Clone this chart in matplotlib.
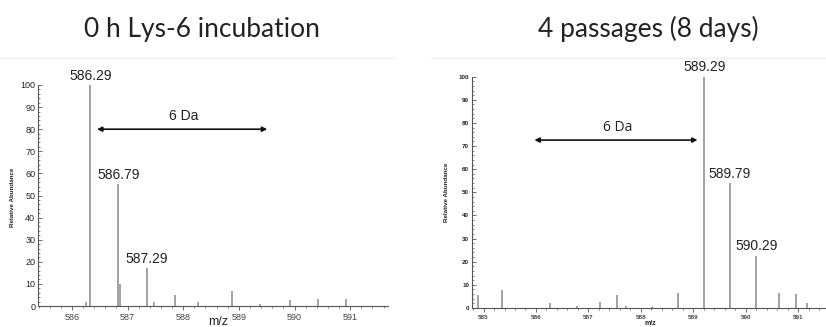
import matplotlib
matplotlib.use("Agg")
import matplotlib.pyplot as plt
from matplotlib.lines import Line2D
from matplotlib.ticker import MultipleLocator

# Left spectrum: 0 h Lys-6 incubation (centroid m/z, relative abundance)
left_mz = [586.26, 586.33, 586.83, 586.86, 587.35, 587.47, 587.86, 588.27, 588.88, 589.38, 589.92, 590.42, 590.93]
left_int = [2, 100, 55, 10, 17, 2, 5, 2, 7, 1, 2.5, 3, 3]
left_labels = ["586.29", "586.79", "587.29"]
left_label_mz = [586.33, 586.83, 587.35]
left_label_int = [100, 55, 17]

# Right spectrum: 4 passages (8 days)
right_mz = [584.89, 585.36, 586.27, 586.78, 587.23, 587.54, 587.72, 588.21, 588.70,
            589.21, 589.70, 590.20, 590.64, 590.96, 591.17]
right_int = [5.8, 7.6, 2, 1, 2.5, 5.8, 1, 0.5, 6.5, 100, 54, 22.6, 6.5, 6, 2]
right_labels = ["589.29", "589.79", "590.29"]
right_label_mz = [589.21, 589.70, 590.20]
right_label_int = [100, 54, 22.6]

titles = ["0 h Lys-6 incubation", "4 passages (8 days)"]
yticks = list(range(0, 101, 10))

fig = plt.figure(figsize=(8.26, 3.27), dpi=100)
ax1 = fig.add_axes([38 / 826, 1 - 306 / 327, 350 / 826, 221 / 327])
ax2 = fig.add_axes([472 / 826, 1 - 308 / 327, 354 / 826, 231.3 / 327])

peak_color = "#8a8a8a"
axis_color = "#555555"
text_color = "#222222"


def draw_spectrum(ax, mz, inten, labels, lab_mz, lab_int, xlim, tick_fs, lab_fs):
    ax.vlines(mz, 0, inten, color=peak_color, linewidth=1.1)
    ax.set_xlim(*xlim)
    ax.set_ylim(0, 100)
    for s in ["top", "right"]:
        ax.spines[s].set_visible(False)
    for s in ["left", "bottom"]:
        ax.spines[s].set_color(axis_color)
        ax.spines[s].set_linewidth(0.8)
    ax.set_yticks(yticks)
    ax.yaxis.set_minor_locator(MultipleLocator(2))
    ax.xaxis.set_major_locator(MultipleLocator(1))
    ax.xaxis.set_minor_locator(MultipleLocator(0.2))
    ax.tick_params(axis="y", direction="in", length=3, width=0.6, color=axis_color,
                   labelsize=tick_fs, labelcolor=text_color, pad=2)
    ax.tick_params(axis="y", which="minor", direction="in", length=1.5, width=0.5, color=axis_color)
    ax.tick_params(axis="x", direction="out", length=3, width=0.6, color=axis_color,
                   labelsize=tick_fs, labelcolor="#444444", pad=2)
    ax.tick_params(axis="x", which="minor", direction="out", length=1.5, width=0.5, color=axis_color)
    for t, x, y in zip(labels, lab_mz, lab_int):
        ax.text(x, y + 1, t, ha="center", va="bottom", fontsize=lab_fs,
                family="Liberation Sans", color=text_color, clip_on=False)


draw_spectrum(ax1, left_mz, left_int, left_labels, left_label_mz, left_label_int,
              (585.39, 591.68), 6.5, 10)
draw_spectrum(ax2, right_mz, right_int, right_labels, right_label_mz, right_label_int,
              (584.78, 591.53), 4.5, 10)

for lab in ax1.get_xticklabels() + ax1.get_yticklabels():
    lab.set_family("Liberation Sans")
for lab in ax2.get_xticklabels() + ax2.get_yticklabels():
    lab.set_family("Liberation Sans")
    lab.set_fontweight("bold")

# 6 Da arrows
ax1.annotate("", xy=(586.45, 80), xytext=(589.51, 80),
             arrowprops=dict(arrowstyle="<|-|>", color="#111111", lw=1.2,
                             mutation_scale=7, shrinkA=0, shrinkB=0))
ax1.text(588.0, 83, "6 Da", ha="center", va="bottom", fontsize=10,
         family="Liberation Sans", color=text_color)
ax2.annotate("", xy=(585.97, 72.6), xytext=(589.08, 72.6),
             arrowprops=dict(arrowstyle="<|-|>", color="#111111", lw=1.2,
                             mutation_scale=7, shrinkA=0, shrinkB=0))
ax2.text(587.55, 75, "6 Da", ha="center", va="bottom", fontsize=10,
         family="Open Sans", color=text_color)

# axis labels
fig.text(13 / 826, 1 - 197 / 327, "Relative Abundance", rotation=90, ha="center", va="center",
         fontsize=4.5, fontweight="bold", family="Liberation Sans", color=text_color)
fig.text(447 / 826, 1 - 192 / 327, "Relative Abundance", rotation=90, ha="center", va="center",
         fontsize=4.5, fontweight="bold", family="Liberation Sans", color=text_color)
fig.text(218 / 826, 1 - 322 / 327, "m/z", ha="center", va="center", fontsize=9,
         family="Liberation Sans", color=text_color)
fig.text(650 / 826, 1 - 323.5 / 327, "m/z", ha="center", va="center", fontsize=5,
         family="Liberation Sans", fontweight="bold", color=text_color)

# titles
fig.text(202 / 826, 1 - 36.5 / 327, titles[0], ha="center", va="baseline", fontsize=19,
         family="Lato", color=text_color)
fig.text(648 / 826, 1 - 36.5 / 327, titles[1], ha="center", va="baseline", fontsize=19,
         family="Lato", color=text_color)

# faint panel borders
fig.add_artist(Line2D([0, 394 / 826], [1 - 58 / 327] * 2, color="#eeeeee", lw=0.8))
fig.add_artist(Line2D([431 / 826, 1], [1 - 58 / 327] * 2, color="#eeeeee", lw=0.8))

fig.savefig("out.png", dpi=100)
